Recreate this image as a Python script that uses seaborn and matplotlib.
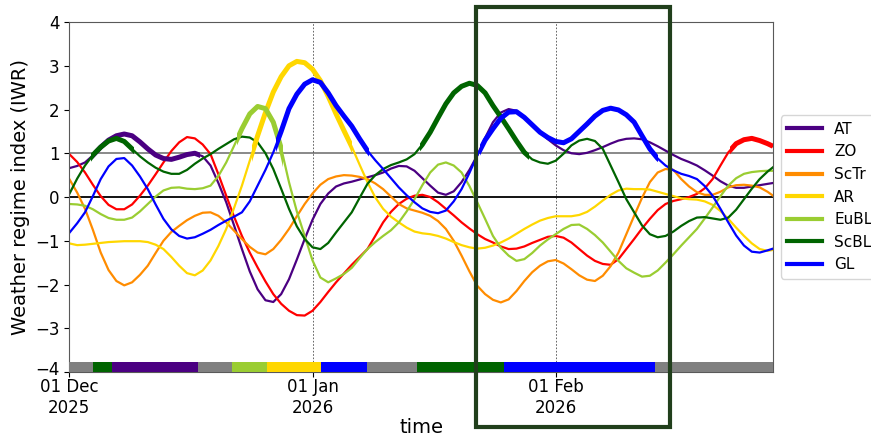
import pandas as pd
import seaborn as sns
import matplotlib
matplotlib.use('Agg')
import matplotlib.pyplot as plt
import matplotlib.dates as mdates
import matplotlib.transforms as mtransforms
from matplotlib.patches import Rectangle
from matplotlib.lines import Line2D

# Days since 01 Dec 2025 (daily, last point is the end of the forecast)
days = list(range(0, 90)) + [89.7]
t0 = pd.Timestamp('2025-12-01')

# Weather regime index per regime
AT = [0.66, 0.71, 0.79, 0.95, 1.14, 1.30, 1.40, 1.44, 1.40, 1.26,
      1.10, 0.96, 0.88, 0.86, 0.91, 0.97, 1.00, 0.93, 0.72, 0.32,
      -0.12, -0.65, -1.19, -1.70, -2.11, -2.36, -2.40, -2.22, -1.88, -1.43,
      -0.96, -0.52, -0.16, 0.08, 0.24, 0.31, 0.35, 0.40, 0.45, 0.50,
      0.56, 0.65, 0.71, 0.70, 0.60, 0.43, 0.26, 0.10, 0.05, 0.13,
      0.34, 0.62, 0.95, 1.35, 1.71, 1.93, 2.01, 1.97, 1.82, 1.65,
      1.48, 1.32, 1.18, 1.07, 1.00, 0.98, 1.01, 1.07, 1.14, 1.22,
      1.29, 1.33, 1.34, 1.32, 1.25, 1.16, 1.06, 0.96, 0.87, 0.80,
      0.72, 0.61, 0.49, 0.36, 0.26, 0.21, 0.21, 0.24, 0.27, 0.30, 0.32]
ZO = [0.98, 0.80, 0.56, 0.28, 0.02, -0.18, -0.28, -0.28, -0.17, 0.03,
      0.26, 0.52, 0.79, 1.05, 1.25, 1.37, 1.34, 1.20, 0.98, 0.52,
      0.03, -0.45, -0.89, -1.27, -1.61, -1.93, -2.22, -2.44, -2.60, -2.70,
      -2.71, -2.60, -2.40, -2.17, -1.95, -1.75, -1.55, -1.37, -1.19, -0.89,
      -0.58, -0.34, -0.16, -0.04, 0.03, 0.05, 0.00, -0.12, -0.27, -0.42,
      -0.58, -0.72, -0.85, -0.96, -1.04, -1.13, -1.19, -1.18, -1.13, -1.05,
      -0.98, -0.91, -0.89, -0.93, -1.04, -1.19, -1.34, -1.46, -1.53, -1.55,
      -1.42, -1.19, -0.96, -0.72, -0.50, -0.30, -0.16, -0.09, -0.05, 0.00,
      0.07, 0.20, 0.41, 0.72, 1.02, 1.22, 1.31, 1.34, 1.29, 1.22, 1.16]
ScTr = [0.41, 0.10, -0.27, -0.75, -1.27, -1.67, -1.92, -2.02, -1.95, -1.78,
        -1.57, -1.28, -1.00, -0.80, -0.66, -0.53, -0.43, -0.36, -0.35, -0.43,
        -0.58, -0.77, -0.96, -1.14, -1.27, -1.31, -1.19, -0.98, -0.73, -0.44,
        -0.16, 0.08, 0.28, 0.41, 0.47, 0.50, 0.49, 0.46, 0.41, 0.31,
        0.18, 0.01, -0.16, -0.26, -0.31, -0.36, -0.43, -0.55, -0.73, -1.00,
        -1.34, -1.70, -2.03, -2.22, -2.35, -2.41, -2.34, -2.15, -1.92, -1.72,
        -1.57, -1.47, -1.44, -1.52, -1.65, -1.79, -1.89, -1.92, -1.80, -1.58,
        -1.27, -0.85, -0.43, -0.02, 0.34, 0.56, 0.64, 0.62, 0.41, 0.24,
        0.11, 0.05, 0.05, 0.12, 0.22, 0.27, 0.28, 0.26, 0.22, 0.12, 0.03]
AR = [-1.06, -1.10, -1.09, -1.07, -1.05, -1.03, -1.02, -1.01, -1.01, -1.01,
      -1.03, -1.09, -1.19, -1.37, -1.57, -1.74, -1.79, -1.68, -1.45, -1.12,
      -0.73, -0.25, 0.26, 0.83, 1.40, 1.93, 2.40, 2.75, 3.00, 3.10,
      3.07, 2.92, 2.66, 2.30, 1.90, 1.52, 1.15, 0.74, 0.34, -0.01,
      -0.27, -0.45, -0.58, -0.70, -0.79, -0.83, -0.85, -0.89, -0.95, -1.03,
      -1.10, -1.15, -1.18, -1.16, -1.11, -1.04, -0.95, -0.84, -0.73, -0.63,
      -0.54, -0.48, -0.44, -0.44, -0.44, -0.41, -0.34, -0.22, -0.08, 0.05,
      0.15, 0.19, 0.18, 0.18, 0.17, 0.12, 0.07, 0.02, -0.03, -0.05,
      -0.06, -0.10, -0.18, -0.32, -0.50, -0.70, -0.89, -1.06, -1.19, -1.23, -1.21]
EuBL = [-0.16, -0.17, -0.20, -0.28, -0.39, -0.48, -0.52, -0.52, -0.47, -0.33,
        -0.16, 0.01, 0.15, 0.21, 0.22, 0.19, 0.18, 0.20, 0.26, 0.48,
        0.79, 1.17, 1.56, 1.90, 2.07, 2.02, 1.71, 1.12, 0.34, -0.33,
        -0.89, -1.45, -1.84, -1.95, -1.86, -1.76, -1.62, -1.40, -1.19, -1.03,
        -0.89, -0.76, -0.58, -0.33, -0.05, 0.27, 0.56, 0.74, 0.79, 0.72,
        0.56, 0.25, -0.12, -0.50, -0.89, -1.16, -1.34, -1.46, -1.42, -1.28,
        -1.11, -0.97, -0.85, -0.73, -0.64, -0.63, -0.73, -0.87, -1.04, -1.25,
        -1.46, -1.63, -1.73, -1.82, -1.80, -1.68, -1.50, -1.31, -1.11, -0.92,
        -0.73, -0.49, -0.24, 0.02, 0.26, 0.43, 0.53, 0.57, 0.59, 0.60, 0.60]
ScBL = [0.07, 0.42, 0.72, 0.96, 1.14, 1.28, 1.34, 1.27, 1.10, 0.93,
        0.79, 0.67, 0.58, 0.53, 0.53, 0.62, 0.76, 0.88, 0.98, 1.10,
        1.21, 1.32, 1.38, 1.36, 1.25, 1.00, 0.64, 0.19, -0.27, -0.67,
        -0.96, -1.15, -1.19, -1.05, -0.81, -0.58, -0.35, -0.02, 0.30, 0.50,
        0.64, 0.73, 0.79, 0.86, 0.98, 1.20, 1.48, 1.81, 2.13, 2.38,
        2.53, 2.60, 2.55, 2.38, 2.09, 1.83, 1.56, 1.28, 1.02, 0.86,
        0.79, 0.76, 0.83, 0.99, 1.18, 1.29, 1.33, 1.28, 1.10, 0.72,
        0.34, -0.05, -0.35, -0.65, -0.85, -0.92, -0.89, -0.79, -0.66, -0.55,
        -0.47, -0.46, -0.49, -0.52, -0.47, -0.29, -0.05, 0.19, 0.41, 0.58, 0.68]
GL = [-0.82, -0.60, -0.35, 0.02, 0.41, 0.70, 0.87, 0.89, 0.72, 0.47,
      0.18, -0.17, -0.50, -0.74, -0.89, -0.95, -0.92, -0.84, -0.75, -0.64,
      -0.54, -0.45, -0.35, -0.10, 0.26, 0.62, 1.02, 1.50, 2.02, 2.35,
      2.58, 2.68, 2.62, 2.38, 2.09, 1.85, 1.62, 1.33, 1.06, 0.84,
      0.64, 0.43, 0.22, 0.04, -0.12, -0.26, -0.34, -0.37, -0.31, -0.10,
      0.18, 0.55, 0.95, 1.30, 1.56, 1.80, 1.94, 1.95, 1.82, 1.65,
      1.48, 1.36, 1.27, 1.24, 1.33, 1.50, 1.67, 1.85, 1.98, 2.03,
      1.99, 1.88, 1.71, 1.40, 1.10, 0.88, 0.72, 0.61, 0.53, 0.48,
      0.41, 0.25, 0.03, -0.27, -0.58, -0.88, -1.11, -1.25, -1.27, -1.22, -1.18]

regimes = ['AT', 'ZO', 'ScTr', 'AR', 'EuBL', 'ScBL', 'GL']
colors = {'AT': '#4b0082', 'ZO': '#ff0000', 'ScTr': '#ff8c00', 'AR': '#ffd700',
          'EuBL': '#9acd32', 'ScBL': '#006400', 'GL': '#0000ff', 'none': '#808080'}

# periods where a regime line is drawn thick (start day, end day)
thick = {'AT': [(3.0, 16.7)], 'ZO': [(84.2, 89.7)], 'AR': [(23.3, 36.0)],
         'EuBL': [(21.4, 27.3)], 'ScBL': [(2.8, 8.3), (44.7, 58.6)],
         'GL': [(26.3, 38.2), (52.3, 75.0)]}

# dominant regime bar at the bottom
bar_start = [0.0, 3.0, 5.4, 16.4, 20.7, 25.2, 32.1, 38.0, 44.3, 55.4, 74.7]
bar_end = [3.0, 5.4, 16.4, 20.7, 25.2, 32.1, 38.0, 44.3, 55.4, 74.7, 89.7]
bar_regime = ['none', 'ScBL', 'AT', 'none', 'EuBL', 'AR', 'GL', 'none', 'ScBL', 'GL', 'none']

times = t0 + pd.to_timedelta(days, unit='D')
df = pd.DataFrame({'time': times, 'AT': AT, 'ZO': ZO, 'ScTr': ScTr, 'AR': AR,
                   'EuBL': EuBL, 'ScBL': ScBL, 'GL': GL})
long_df = df.melt(id_vars='time', var_name='regime', value_name='IWR')


def day2num(d):
    return mdates.date2num(t0 + pd.Timedelta(days=d))


fig, ax = plt.subplots(figsize=(8.71, 4.36), dpi=100)
plt.subplots_adjust(left=0.0796, right=0.8875, bottom=0.1468, top=0.9495)

ax.axhline(0, color='black', lw=1.3, zorder=1)
ax.axhline(1, color='grey', lw=1.3, zorder=1)

sns.lineplot(data=long_df, x='time', y='IWR', hue='regime', palette=colors,
             hue_order=regimes, lw=1.6, legend=False, ax=ax, zorder=2)

# thick parts of the lines, clipped to each period
for r, periods in thick.items():
    for a, b in periods:
        line, = ax.plot(df['time'], df[r], color=colors[r], lw=3.6,
                        solid_capstyle='butt', solid_joinstyle='round', zorder=3)
        clip = Rectangle((day2num(a), -10), day2num(b) - day2num(a), 20,
                         transform=ax.transData)
        line.set_clip_path(clip)

for a, b, r in zip(bar_start, bar_end, bar_regime):
    ax.broken_barh([(day2num(a), day2num(b) - day2num(a))], (-4, 0.23),
                   facecolors=colors[r], zorder=4)

ax.set_xlim(day2num(0), day2num(89.7))
ax.set_ylim(-4, 4)
ax.set_yticks(range(-4, 5))
ax.xaxis.set_major_locator(mdates.MonthLocator())
ax.xaxis.set_major_formatter(mdates.DateFormatter('%d %b\n%Y'))
ax.grid(axis='x', color='black', lw=0.6, linestyle=(0, (2, 2)), alpha=0.7)
ax.tick_params(labelsize=12)
ax.tick_params(axis='x', pad=1)
for s in ax.spines.values():
    s.set_color('0.35')
ax.set_xlabel('time', fontsize=14, labelpad=0.5)
ax.set_ylabel('Weather regime index (IWR)', fontsize=14)

# nudge the lowest y label up a little so it clears the date labels
low = ax.get_yticklabels()[0]
low.set_transform(low.get_transform() +
                  mtransforms.ScaledTranslation(0, 3 / 72, fig.dpi_scale_trans))

handles = [Line2D([0], [0], color=colors[r], lw=3) for r in regimes]
ax.legend(handles, regimes, loc='center left', bbox_to_anchor=(1.0, 0.5),
          fontsize=11, handlelength=2.3)

# highlight box around the focus period
fig.add_artist(Rectangle((0.5465, 0.0206), 0.2225, 0.9634, transform=fig.transFigure,
                         fill=False, ec='#213f1c', lw=3, clip_on=False))

fig.savefig('out.png', dpi=100)
